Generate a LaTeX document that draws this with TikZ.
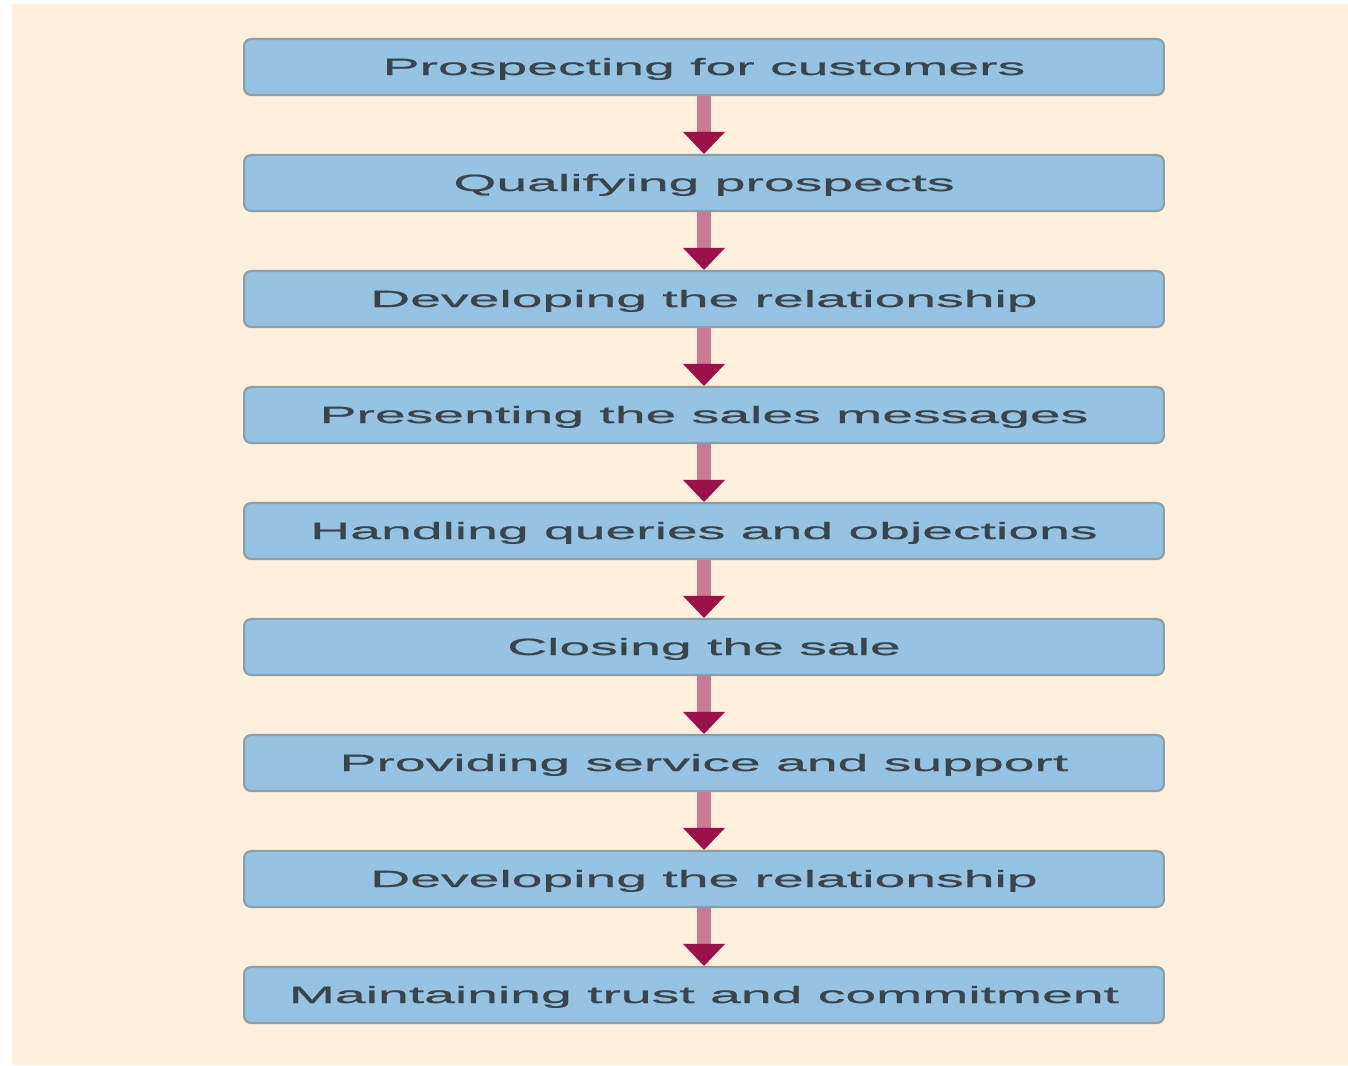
\documentclass[tikz,border=0pt]{standalone}
\usepackage{fontspec}
\setmainfont{Liberation Sans}
\newfontfamily\stepfont[FakeStretch=2.35, FakeBold=0.8]{Liberation Sans}
\usetikzlibrary{arrows.meta}

\begin{document}
\begin{tikzpicture}[x=0.02cm, y=-0.02cm]
    % Define colours
    \definecolor{pageColour}{HTML}{FFFFFF}
    \definecolor{paperColour}{HTML}{FEF0DC}
    \definecolor{boxColour}{HTML}{95C3E1}
    \definecolor{borderColour}{HTML}{8D9EAA}
    \definecolor{textColour}{HTML}{3A444C}
    \definecolor{shaftColour}{HTML}{C97B93}
    \definecolor{headColour}{HTML}{9B124A}

    \tikzset{
        stepbox/.style={draw=borderColour, fill=boxColour, line width=1.2pt,
            rounded corners=0.14cm, minimum width=18.4cm, minimum height=1.12cm,
            inner sep=0pt, text height=0.36cm, text depth=0.04cm,
            text=textColour, font=\stepfont\fontsize{13.4}{16}\selectfont},
        flow/.style={draw=shaftColour, line width=0.28cm,
            -{Triangle[width=0.84cm, length=0.44cm, line width=0pt, color=headColour]}}
    }

    % Draw page and background
    \fill[pageColour] (0,0) rectangle (1348,1065);
    \fill[paperColour] (12,4) rectangle (1348,1065);

    % Draw the steps
    \foreach \stepname [count=\i] in {Prospecting for customers, Qualifying prospects,
        Developing the relationship, Presenting the sales messages,
        Handling queries and objections, Closing the sale,
        Providing service and support, Developing the relationship,
        Maintaining trust and commitment}
        \node[stepbox] (s\i) at (704, {67+116*(\i-1)}) {\stepname};

    % Connect consecutive steps
    \foreach \i [evaluate=\i as \j using int(\i+1)] in {1,...,8}
        \draw[flow] (s\i.south) -- (s\j.north);
\end{tikzpicture}
\end{document}
